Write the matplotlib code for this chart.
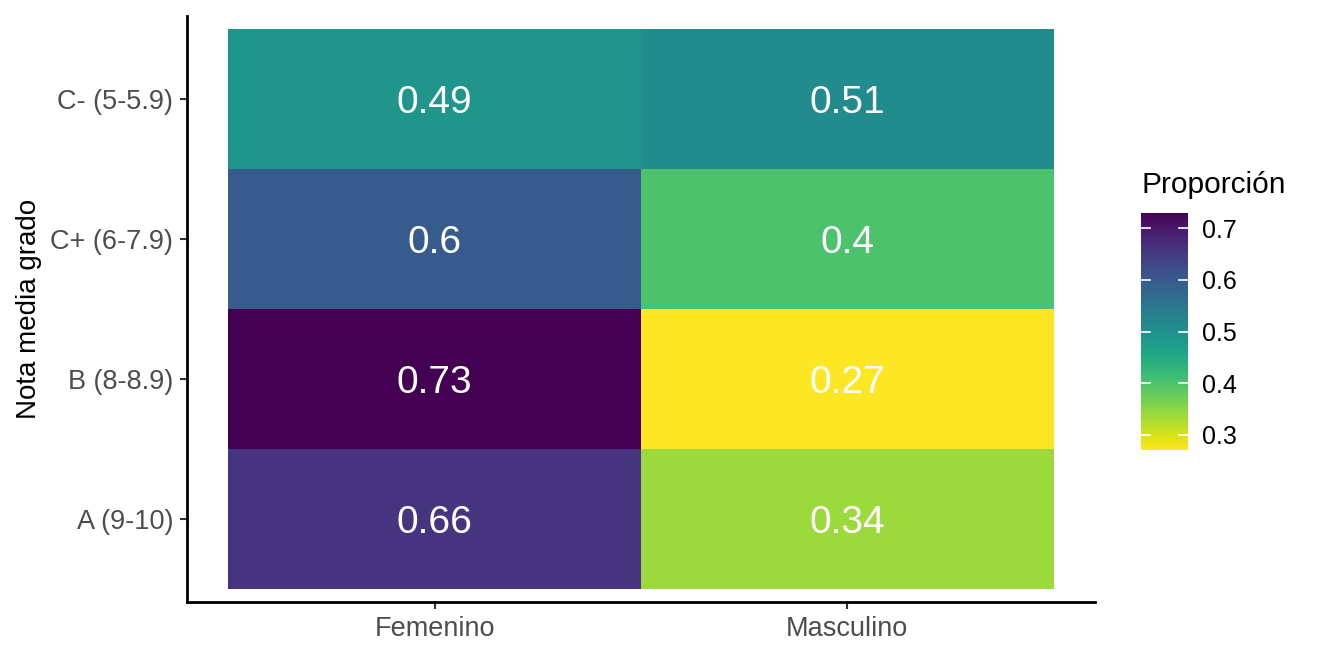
import numpy as np
import matplotlib.pyplot as plt
from matplotlib.colors import Normalize

plt.rcParams['font.family'] = ['Liberation Sans', 'DejaVu Sans']

# datos del mapa de calor
sexos = ['Femenino', 'Masculino']
notas = ['A (9-10)', 'B (8-8.9)', 'C+ (6-7.9)', 'C- (5-5.9)']
prop_femenino = [0.66, 0.73, 0.6, 0.49]
prop_masculino = [0.34, 0.27, 0.4, 0.51]
etiquetas_fem = ['0.66', '0.73', '0.6', '0.49']
etiquetas_masc = ['0.34', '0.27', '0.4', '0.51']

valores = np.array([prop_femenino, prop_masculino]).T  # filas = notas, columnas = sexo
etiquetas = np.array([etiquetas_fem, etiquetas_masc]).T

fig = plt.figure(figsize=(13.18, 6.59), dpi=100)
ax = fig.add_axes([187 / 1318, 1 - 602 / 659, (1095 - 187) / 1318, (602 - 16) / 659])

norm = Normalize(vmin=valores.min(), vmax=valores.max())
cmap = plt.get_cmap('viridis_r')

x_edges = np.arange(len(sexos) + 1) - 0.5
y_edges = np.arange(len(notas) + 1) - 0.5
malla = ax.pcolormesh(x_edges, y_edges, valores, cmap=cmap, norm=norm)

for i in range(len(notas)):
    for j in range(len(sexos)):
        ax.text(j, i, etiquetas[i, j], ha='center', va='center_baseline',
                color='white', fontsize=28)

ax.set_xlim(-0.5 - 0.1, len(sexos) - 0.5 + 0.1)
ax.set_ylim(-0.5 - 0.09, len(notas) - 0.5 + 0.09)
ax.set_xticks(range(len(sexos)))
ax.set_xticklabels(sexos)
ax.set_yticks(range(len(notas)))
ax.set_yticklabels(notas)
ax.tick_params(labelsize=19.5, colors='#4D4D4D', length=5, width=1.5, pad=5)
ax.tick_params(axis='both', color='#333333')
ax.set_ylabel('Nota media grado', fontsize=20, labelpad=6)

for lado in ['top', 'right']:
    ax.spines[lado].set_visible(False)
for lado in ['left', 'bottom']:
    ax.spines[lado].set_linewidth(2)
    ax.spines[lado].set_color('black')

# barra de color
cax = fig.add_axes([1141 / 1318, 1 - 450 / 659, 47 / 1318, (450 - 213) / 659])
cb = fig.colorbar(malla, cax=cax)
cb.outline.set_visible(False)
cb.set_ticks([0.3, 0.4, 0.5, 0.6, 0.7])
cb.set_ticklabels(['0.3', '0.4', '0.5', '0.6', '0.7'])
cax.tick_params(labelsize=18, length=0, pad=10, colors='black')
for t in [0.3, 0.4, 0.5, 0.6, 0.7]:
    cax.plot([0, 0.2], [t, t], color='white', lw=1.2)
    cax.plot([0.8, 1], [t, t], color='white', lw=1.2)
cax.set_xlim(0, 1)
fig.text(1141 / 1318, 1 - 185 / 659, 'Proporción', fontsize=21.5, va='center', ha='left')

fig.savefig('out.png', dpi=100)
